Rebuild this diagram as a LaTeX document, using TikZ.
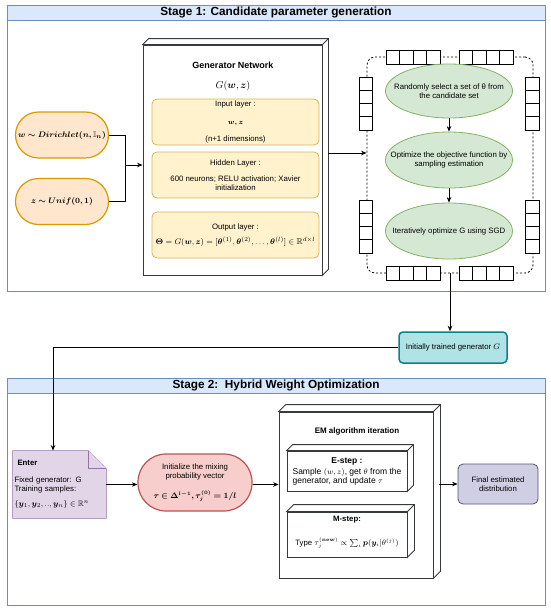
\documentclass[tikz,border=0pt]{standalone}
\usepackage[no-math]{fontspec}
\setmainfont{Liberation Sans}
\usepackage{amsmath}
\usepackage{amssymb}
\usepackage{bm}
\usetikzlibrary{arrows.meta,shapes.geometric,backgrounds}

\definecolor{stageline}{HTML}{6C8EBF}
\definecolor{stagefill}{HTML}{DAE8FC}
\definecolor{priorline}{HTML}{D79B00}
\definecolor{priorfill}{HTML}{FFE6CC}
\definecolor{layerline}{HTML}{D6B656}
\definecolor{layerfill}{HTML}{FFF2CC}
\definecolor{stepline}{HTML}{82B366}
\definecolor{stepfill}{HTML}{D5E8D4}
\definecolor{initline}{HTML}{0E8088}
\definecolor{initfill}{HTML}{B0E3E6}
\definecolor{noteline}{HTML}{9673A6}
\definecolor{notefill}{HTML}{E1D5E7}
\definecolor{mixline}{HTML}{B85450}
\definecolor{mixfill}{HTML}{F8CECC}
\definecolor{finalline}{HTML}{56517E}
\definecolor{finalfill}{HTML}{D0CEE2}
\definecolor{cubeline}{HTML}{36393D}

\begin{document}
\begin{tikzpicture}[
  x=1pt, y=-1pt, line width=0.8pt, font=\fontsize{7.8}{9.2}\selectfont,
  stage/.style={draw=stageline, minimum width=538pt, inner sep=0pt},
  header/.style={draw=stageline, fill=stagefill, minimum width=538pt, minimum height=15pt, inner sep=0pt, font=\fontsize{11.8}{13}\selectfont\bfseries},
  prior/.style={draw=priorline, fill=priorfill, line width=1.2pt, rounded corners=23pt, minimum width=93pt, minimum height=46pt, inner sep=0pt, font=\fontsize{8}{10}\selectfont},
  cube/.style={draw=cubeline, fill=white, inner sep=0pt},
  layer/.style={draw=layerline, fill=layerfill, rounded corners=5pt, minimum width=167pt, minimum height=46pt, inner sep=0pt, align=center},
  loopbox/.style={draw=black, dash pattern=on 2pt off 2pt, rounded corners=8pt, minimum width=166pt, minimum height=216pt},
  cell/.style={draw=black, fill=white, minimum width=13.5pt, minimum height=13.3pt, inner sep=0pt},
  stepnode/.style={ellipse, draw=stepline, fill=stepfill, minimum width=127pt, minimum height=54pt, inner sep=0pt},
  initnode/.style={draw=initline, fill=initfill, line width=1.5pt, rounded corners=4pt, minimum width=108pt, minimum height=31pt, inner sep=0pt},
  notebox/.style={minimum width=93pt, minimum height=67pt, inner sep=1.5pt, text width=90pt, align=left},
  mixnode/.style={draw=mixline, fill=mixfill, line width=1.2pt, rounded corners=28pt, minimum width=114pt, minimum height=57pt, inner sep=0pt, align=center},
  finalnode/.style={draw=finalline, fill=finalfill, rounded corners=5pt, minimum width=80pt, minimum height=40pt, inner sep=0pt, align=center},
  flow/.style={-{Stealth[length=5.5pt,width=4.5pt]}}
]
  \useasboundingbox (0,0) rectangle (550,611);

  % stage 1
  \node[stage, minimum height=286pt] (stage1) at (276,148) {};
  \node[header] (hdr1) at (276,12.5) {Stage 1: Candidate parameter generation};

  \node[prior] (w) at (62,135) {$\boldsymbol{w\sim Dirichlet(n,\mathbb{I}_n)}$};
  \node[prior] (z) at (62,201.5) {$\boldsymbol{z\sim Unif(0,1)}$};
  \coordinate (jn) at (125,165);

  \node[cube, minimum width=179pt, minimum height=230pt] (gen) at (232.5,160) {};
  \draw[cubeline, fill=white] (gen.north west) -- ++(6,-6) -- ([shift={(6,-6)}]gen.north east) -- ([shift={(6,-6)}]gen.south east) -- (gen.south east) -- (gen.north east) -- cycle;
  \draw[cubeline] (gen.north east) -- ++(6,-6);
  \node[font=\fontsize{9}{11}\selectfont\bfseries] (gentitle) at (233,65) {Generator Network};
  \node[font=\fontsize{10}{12}\selectfont] (genmap) at (233,86) {$G(\boldsymbol{w},\boldsymbol{z})$};
  \node[layer] (inlayer) at (235.5,122) {Input layer :\\[8pt] {\fontsize{7}{8}\selectfont$\boldsymbol{w,z}$}\\[8pt] (n+1 dimensions)};
  \node[layer] (hidlayer) at (235.5,175) {Hidden Layer :\\[7pt] 600 neurons; RELU activation; Xavier\\ initialization};
  \node[layer] (outlayer) at (235.5,235) {Output layer :\\[6pt] {\fontsize{8.5}{10}\selectfont$\boldsymbol{\Theta}=G(\boldsymbol{w},\boldsymbol{z})=[\boldsymbol{\theta}^{(1)},\boldsymbol{\theta}^{(2)},\dots,\boldsymbol{\theta}^{(l)}]\in\mathbb{R}^{d\times l}$}};
  \coordinate (gout) at (328,153);

  \node[loopbox] (loop) at (450,165) {};
  \foreach \i in {0,...,3} {
    \node[cell] (ta\i) at (392.75+13.5*\i,57.5) {};
    \node[cell] (tb\i) at (465.75+13.5*\i,57.5) {};
    \node[cell] (ba\i) at (392.75+13.5*\i,273.5) {};
    \node[cell] (bb\i) at (465.75+13.5*\i,273.5) {};
    \node[cell] (la\i) at (366,83.6+13.25*\i) {};
    \node[cell] (lb\i) at (366,206.6+13.25*\i) {};
    \node[cell] (ra\i) at (532.5,83.6+13.25*\i) {};
    \node[cell] (rb\i) at (532.5,206.6+13.25*\i) {};
  }
  \node[stepnode, label={[align=center]center:{Randomly select a set of θ from\\the candidate set}}] (s1) at (449,91) {};
  \node[stepnode, minimum height=56pt, label={[align=center]center:{Optimize the objective function by\\sampling estimation}}] (s2) at (449,160) {};
  \node[stepnode, minimum height=56pt, label={center:Iteratively optimize G using SGD}] (s3) at (449,231) {};

  \node[initnode] (init) at (453,347.5) {Initially trained generator $G$};

  % stage 2
  \node[stage, minimum height=227pt] (stage2) at (276,491.5) {};
  \node[header] (hdr2) at (276,385.5) {Stage 2:\ \ Hybrid Weight Optimization};

  \node[notebox] (enter) at (59.5,484.5) {\hspace*{3pt}\textbf{Enter}\\[7pt] Fixed generator: G\\ Training samples:\\[6pt] {\fontsize{8}{10}\selectfont$\{\boldsymbol{y}_1,\boldsymbol{y}_2,..,\boldsymbol{y}_n\}\in\mathbb{R}^n$}};
  \begin{scope}[on background layer]
    \draw[noteline, fill=notefill] (enter.north west) -- ([xshift=-18pt]enter.north east) -- ([yshift=-18pt]enter.north east) -- (enter.south east) -- (enter.south west) -- cycle;
    \draw[noteline, fill=notefill] ([xshift=-18pt]enter.north east) -- ([xshift=-18pt,yshift=-18pt]enter.north east) -- ([yshift=-18pt]enter.north east);
  \end{scope}

  \node[mixnode] (mix) at (195,482.5) {Initialize the mixing\\probability vector\\[9pt] {\fontsize{7.6}{9}\selectfont$\boldsymbol{\tau\in\Delta^{l-1},\tau_j^{(0)}=1/l}$}};

  \node[cube, minimum width=154pt, minimum height=166pt] (em) at (356,495) {};
  \draw[cubeline, fill=white] (em.north west) -- ++(7,-7) -- ([shift={(7,-7)}]em.north east) -- ([shift={(7,-7)}]em.south east) -- (em.south east) -- (em.north east) -- cycle;
  \draw[cubeline] (em.north east) -- ++(7,-7);
  \node[font=\fontsize{8}{9.5}\selectfont\bfseries] (emtitle) at (357,431) {EM algorithm iteration};

  \node[cube, minimum width=120pt, minimum height=40pt] (estep) at (347,471) {};
  \draw[cubeline, fill=white] (estep.north west) -- ++(6,-6) -- ([shift={(6,-6)}]estep.north east) -- ([shift={(6,-6)}]estep.south east) -- (estep.south east) -- (estep.north east) -- cycle;
  \draw[cubeline] (estep.north east) -- ++(6,-6);
  \node[font=\fontsize{8.5}{10}\selectfont\bfseries] (esteptitle) at (347,461) {E-step :};
  \node[align=left, font=\fontsize{8.5}{9.5}\selectfont] (estepbody) at (347,477) {Sample $(w,z)$, get $\theta$ from the\\ generator, and update $\tau$};

  \node[cube, minimum width=120pt, minimum height=45pt] (mstep) at (347,534.5) {};
  \draw[cubeline, fill=white] (mstep.north west) -- ++(7,-7) -- ([shift={(7,-7)}]mstep.north east) -- ([shift={(7,-7)}]mstep.south east) -- (mstep.south east) -- (mstep.north east) -- cycle;
  \draw[cubeline] (mstep.north east) -- ++(7,-7);
  \node[font=\fontsize{7.8}{9.2}\selectfont\bfseries] (msteptitle) at (347,520) {M-step:};
  \node (mstepbody) at (347,543) {Type {\fontsize{7.8}{9.5}\selectfont$\tau_j^{(\mathbf{new})}\propto\sum_i \boldsymbol{p}(\boldsymbol{y}_i|\theta^{(j)})$}};

  \node[finalnode] (final) at (498,484) {Final estimated\\distribution};

  % connectors
  \draw (w.east) -| (jn);
  \draw (z.east) -| (jn);
  \draw[flow] (jn) -- (jn -| gen.west);
  \draw[flow] (gout) -- (gout -| loop.west);
  \draw[flow] (s1) -- (s2);
  \draw[flow] (s2) -- (s3);
  \draw[flow] (loop.south) -- (loop.south |- init.north);
  \draw[flow] (init.west) -| ([xshift=-6.5pt]enter.north);
  \draw[flow] ([yshift=-0pt]enter.east) -- (enter.east -| mix.west);
  \draw[flow] (mix.east |- enter.east) -- (enter.east -| em.west);
  \draw[flow] ([xshift=6pt]em.east |- final.west) -- (final.west);
\end{tikzpicture}
\end{document}
